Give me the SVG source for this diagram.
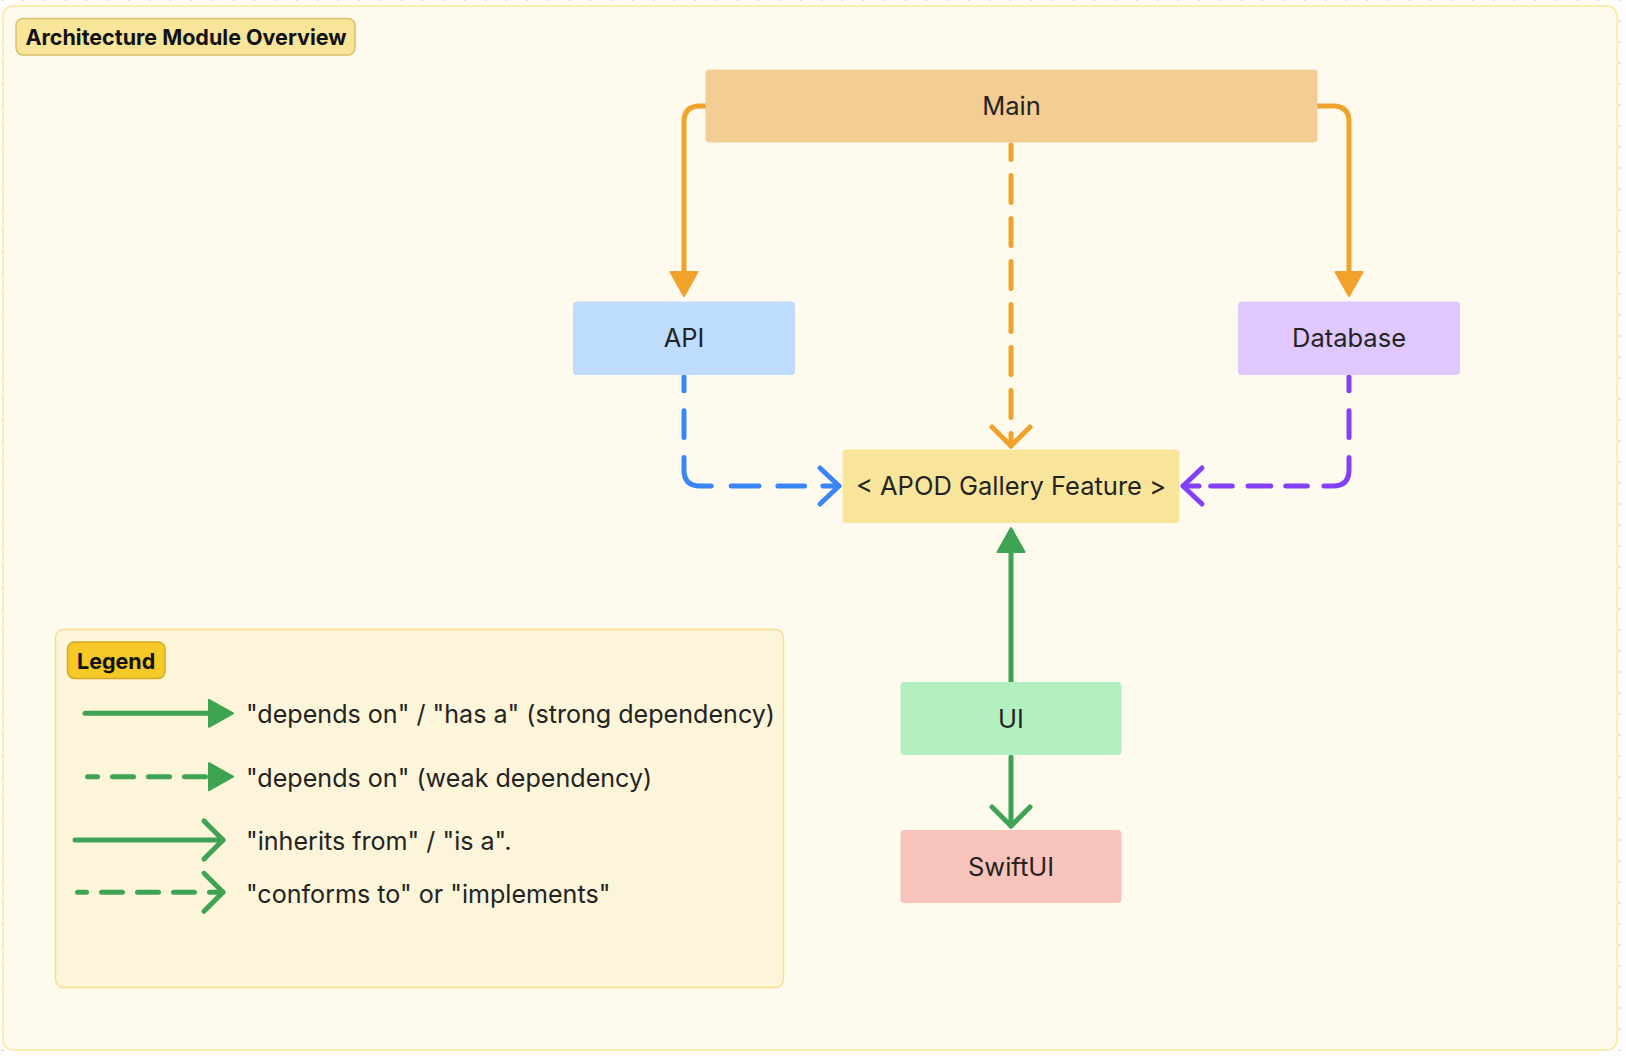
<svg xmlns="http://www.w3.org/2000/svg" width="1626" height="1056" viewBox="0 0 1626 1056">
  <defs>
    <pattern id="dots" x="1.5" y="-1" width="21" height="21" patternUnits="userSpaceOnUse">
      <circle cx="1" cy="1" r="1" fill="#cfcfcf"/>
    </pattern>
    <marker id="tri-orange" markerUnits="userSpaceOnUse" viewBox="-2 -16 30 32" markerWidth="30" markerHeight="32" refX="0" refY="0" orient="auto" overflow="visible">
      <path d="M0,-13.5 L24,0 L0,13.5 Z" fill="#f0a22b" stroke="#f0a22b" stroke-width="2" stroke-linejoin="round"/>
    </marker>
    <marker id="tri-green" markerUnits="userSpaceOnUse" viewBox="-2 -16 30 32" markerWidth="30" markerHeight="32" refX="0" refY="0" orient="auto" overflow="visible">
      <path d="M0,-13.5 L24,0 L0,13.5 Z" fill="#3ea352" stroke="#3ea352" stroke-width="2" stroke-linejoin="round"/>
    </marker>
    <marker id="chev-orange" markerUnits="userSpaceOnUse" viewBox="-24 -24 30 48" markerWidth="30" markerHeight="48" refX="0" refY="0" orient="auto" overflow="visible">
      <path d="M-19,-19 L0,0 L-19,19" fill="none" stroke="#f0a22b" stroke-width="5" stroke-linecap="round" stroke-linejoin="round"/>
    </marker>
    <marker id="chev-blue" markerUnits="userSpaceOnUse" viewBox="-24 -24 30 48" markerWidth="30" markerHeight="48" refX="0" refY="0" orient="auto" overflow="visible">
      <path d="M-19,-18 L0,0 L-19,18" fill="none" stroke="#3b86f7" stroke-width="5" stroke-linecap="round" stroke-linejoin="round"/>
    </marker>
    <marker id="chev-purple" markerUnits="userSpaceOnUse" viewBox="-24 -24 30 48" markerWidth="30" markerHeight="48" refX="0" refY="0" orient="auto" overflow="visible">
      <path d="M-19,-18 L0,0 L-19,18" fill="none" stroke="#8440f8" stroke-width="5" stroke-linecap="round" stroke-linejoin="round"/>
    </marker>
    <marker id="chev-green" markerUnits="userSpaceOnUse" viewBox="-24 -24 30 48" markerWidth="30" markerHeight="48" refX="0" refY="0" orient="auto" overflow="visible">
      <path d="M-19,-19 L0,0 L-19,19" fill="none" stroke="#3ea352" stroke-width="5" stroke-linecap="round" stroke-linejoin="round"/>
    </marker>
  </defs>
  <style>
    .lbl { font-family: Inter, "Noto Sans", "Liberation Sans", sans-serif; font-size: 25.5px; fill: #232323; }
    .leg { font-size: 25.1px; }
    .node-lbl { text-anchor: middle; }
    .badge { font-family: Inter, "Noto Sans", "Liberation Sans", sans-serif; font-size: 21.5px; font-weight: 700; fill: #111111; }
    .edge { fill: none; stroke-width: 5; stroke-linecap: round; stroke-linejoin: round; }
    .dash { stroke-dasharray: 27 16; }
    .dashl { stroke-dasharray: 21 15; }
    .orange { stroke: #f0a22b; }
    .blue { stroke: #3b86f7; }
    .purple { stroke: #8440f8; }
    .green { stroke: #3ea352; }
  </style>

  <rect width="1626" height="1056" fill="#fdfdfb"/>
  <rect width="1626" height="1056" fill="url(#dots)"/>

  <g id="frame">
    <rect x="3" y="6" width="1614" height="1044" rx="10" fill="#fefbee" stroke="#fde79a" stroke-width="1.5"/>
    <rect x="16" y="18.5" width="339" height="36.5" rx="7" fill="#f9e59a" stroke="#d9c06b" stroke-width="1.5"/>
    <text class="badge" x="25.5" y="45">Architecture Module Overview</text>
  </g>

  <g id="legend">
    <rect x="55.5" y="629.5" width="728" height="358" rx="8" fill="#fdf5da" stroke="#fbdf85" stroke-width="1.5"/>
    <rect x="67.5" y="642" width="97.5" height="36.5" rx="7" fill="#f5c928" stroke="#d4a72a" stroke-width="1.5"/>
    <text class="badge" x="77" y="669">Legend</text>
    <path class="edge green" d="M85,713.3 H209" marker-end="url(#tri-green)"/>
    <path class="edge green dashl" stroke-dashoffset="11" d="M87.5,776.7 H209" marker-end="url(#tri-green)"/>
    <path class="edge green" d="M75,840 H223" marker-end="url(#chev-green)"/>
    <path class="edge green dashl" stroke-dashoffset="12" d="M77.5,892.3 H223" marker-end="url(#chev-green)"/>
    <text class="lbl leg" x="246" y="723">"depends on" / "has a" (strong dependency)</text>
    <text class="lbl leg" x="246" y="786.5">"depends on" (weak dependency)</text>
    <text class="lbl leg" x="246" y="850">"inherits from" / "is a".</text>
    <text class="lbl leg" x="246" y="903">"conforms to" or "implements"</text>
  </g>

  <g id="connectors">
    <path class="edge orange" d="M706,106 H700 Q684,106 684,122 V272" marker-end="url(#tri-orange)"/>
    <path class="edge orange" d="M1317,106 H1333 Q1349,106 1349,122 V272" marker-end="url(#tri-orange)"/>
    <path class="edge orange dash" stroke-dashoffset="12.5" d="M1011,145 V446" marker-end="url(#chev-orange)"/>
    <path class="edge blue" stroke-dasharray="13.8 20 26.7 20 49.5 20 27.7 19 26.6 18.4 40 100" d="M684,377 V470 Q684,486 700,486 H839" marker-end="url(#chev-blue)"/>
    <path class="edge purple" stroke-dasharray="13.8 20 26.7 20 47.3 16.7 21.6 15 22.7 15.7 21.6 11.7 40 100" d="M1349,377 V470 Q1349,486 1333,486 H1183" marker-end="url(#chev-purple)"/>
    <path class="edge green" d="M1011,682 V552" marker-end="url(#tri-green)"/>
    <path class="edge green" d="M1011,757 V826" marker-end="url(#chev-green)"/>
  </g>

  <g id="node-main">
    <rect x="705.5" y="69.5" width="612" height="73" rx="4" fill="#f3cd93"/>
    <text class="lbl node-lbl" x="1011.5" y="115">Main</text>
  </g>
  <g id="node-api">
    <rect x="573" y="301.5" width="222" height="73.5" rx="4" fill="#bddcfe"/>
    <text class="lbl node-lbl" x="684" y="347">API</text>
  </g>
  <g id="node-database">
    <rect x="1238" y="301.5" width="222" height="73.5" rx="4" fill="#dfc8fd"/>
    <text class="lbl node-lbl" x="1349" y="347">Database</text>
  </g>
  <g id="node-feature">
    <rect x="842.5" y="449.5" width="337" height="73.5" rx="4" fill="#f9e59a"/>
    <text class="lbl node-lbl" x="1011" y="495">&lt; APOD Gallery Feature &gt;</text>
  </g>
  <g id="node-ui">
    <rect x="900.5" y="682" width="221" height="73" rx="4" fill="#b2f0c0"/>
    <text class="lbl node-lbl" x="1011" y="727.5">UI</text>
  </g>
  <g id="node-swiftui">
    <rect x="900.5" y="830" width="221" height="73" rx="4" fill="#f8c3bb"/>
    <text class="lbl node-lbl" x="1011" y="875.5">SwiftUI</text>
  </g>
</svg>
